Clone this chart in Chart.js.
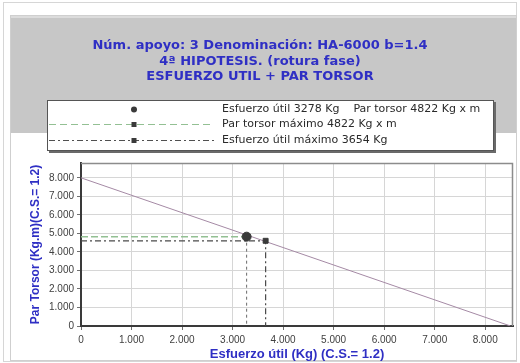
<!DOCTYPE html>
<html>
<head>
<meta charset="utf-8">
<script src="https://cdn.jsdelivr.net/npm/chart.js@4/dist/chart.umd.min.js"></script>
<style>
  html, body { margin: 0; padding: 0; background: #ffffff; }
  #wrap { width: 520px; height: 363px; position: relative; }
</style>
</head>
<body>
<div id="wrap"><canvas id="c" width="520" height="363"></canvas></div>
<script>
// ---- data ----
const titleLines = ['Núm. apoyo: 3 Denominación: HA-6000 b=1.4', '4ª HIPOTESIS. (rotura fase)', 'ESFUERZO UTIL + PAR TORSOR'];
const xAxisTitle = 'Esfuerzo útil (Kg) (C.S.= 1.2)';
const yAxisTitle = 'Par Torsor (Kg.m)(C.S.= 1.2)';

// interaction line: esfuerzo útil (Kg) vs par torsor (Kg·m)
const curveEsfuerzo = [0, 8500];
const curvePar = [8000, 0];

const esfuerzoUtil = 3278;        // Kg
const parTorsor = 4822;           // Kg x m
const parTorsorMaximo = 4822;     // Kg x m
const esfuerzoUtilMaximo = 3654;  // Kg
const parEnEsfuerzoMaximo = 4600; // Kg x m

const xLimits = [0, 8550];
const yLimits = [0, 8800];
const xTickValues = [0, 1000, 2000, 3000, 4000, 5000, 6000, 7000, 8000];
const yTickValues = [0, 1000, 2000, 3000, 4000, 5000, 6000, 7000, 8000];

const legendLabels = [
  'Esfuerzo útil ' + esfuerzoUtil + ' Kg    Par torsor ' + parTorsor + ' Kg x m',
  'Par torsor máximo ' + parTorsorMaximo + ' Kg x m',
  'Esfuerzo útil máximo ' + esfuerzoUtilMaximo + ' Kg'
];

// ---- styles ----
const FONT = "'Liberation Sans', Arial, sans-serif";
const WIDE = "'DejaVu Sans', Verdana, sans-serif";
const BLUE = '#2f2fc4';
const GREEN = '#93c093';
const DARK = '#3a3a3a';

function fmtThousands(v) {
  return String(Math.round(v)).replace(/\B(?=(\d{3})+(?!\d))/g, '.');
}

const curveData = curveEsfuerzo.map((x, i) => ({ x: x, y: curvePar[i] }));

const framePlugin = {
  id: 'frame',
  beforeDraw(chart) {
    const ctx = chart.ctx;
    ctx.save();
    ctx.fillStyle = '#ffffff';
    ctx.fillRect(0, 0, chart.width, chart.height);
    // outer frame
    ctx.strokeStyle = '#d6d6d6';
    ctx.lineWidth = 1;
    ctx.strokeRect(3.5, 2.5, 513, 359);
    // inner frame
    ctx.strokeStyle = '#cfcfcf';
    ctx.strokeRect(10.5, 15.5, 506, 345);
    // grey header panel
    ctx.fillStyle = '#c7c7c7';
    ctx.fillRect(11, 16, 505, 117);
    ctx.fillStyle = '#dcdcdc';
    ctx.fillRect(11, 16, 505, 2);
    ctx.restore();
  },
  beforeDatasetsDraw(chart) {
    const a = chart.chartArea;
    const ctx = chart.ctx;
    ctx.save();
    ctx.strokeStyle = '#8c8c8c';
    ctx.lineWidth = 1.5;
    ctx.beginPath();
    ctx.moveTo(a.left, a.top + 0.5);
    ctx.lineTo(a.right - 0.5, a.top + 0.5);
    ctx.lineTo(a.right - 0.5, a.bottom);
    ctx.stroke();
    ctx.restore();
  },
  afterDraw(chart) {
    const ctx = chart.ctx;
    ctx.save();
    // legend box with shadow
    const bx = 47, by = 100, bw = 446, bh = 50;
    ctx.fillStyle = '#6a6a6a';
    ctx.fillRect(bx + 2, by + 2, bw + 1, bh + 1);
    ctx.fillStyle = '#ffffff';
    ctx.fillRect(bx, by, bw, bh);
    ctx.strokeStyle = '#555555';
    ctx.lineWidth = 1;
    ctx.strokeRect(bx + 0.5, by + 0.5, bw, bh);

    const rows = [109.5, 124.5, 140.5];
    const mx = 134;
    // row 2: par torsor máximo
    ctx.strokeStyle = GREEN;
    ctx.lineWidth = 1;
    ctx.setLineDash([7, 4]);
    ctx.beginPath();
    ctx.moveTo(bx + 2, rows[1]);
    ctx.lineTo(214, rows[1]);
    ctx.stroke();
    // row 3: esfuerzo útil máximo
    ctx.strokeStyle = '#505050';
    ctx.setLineDash([6, 3, 2, 3]);
    ctx.beginPath();
    ctx.moveTo(bx + 2, rows[2]);
    ctx.lineTo(214, rows[2]);
    ctx.stroke();
    ctx.setLineDash([]);
    // markers
    ctx.fillStyle = DARK;
    ctx.beginPath();
    ctx.arc(mx, rows[0], 3, 0, Math.PI * 2);
    ctx.fill();
    ctx.fillRect(mx - 2.5, rows[1] - 2.5, 5, 5);
    ctx.fillRect(mx - 2.5, rows[2] - 2.5, 5, 5);
    // labels
    ctx.fillStyle = '#2a2a2a';
    ctx.font = '11px ' + WIDE;
    ctx.textBaseline = 'middle';
    ctx.textAlign = 'left';
    legendLabels.forEach((t, i) => ctx.fillText(t, 222, rows[i]));
    ctx.restore();
  }
};

new Chart(document.getElementById('c'), {
  type: 'scatter',
  data: {
    datasets: [
      {
        label: 'Esfuerzo útil / Par torsor',
        data: [{ x: esfuerzoUtil, y: parTorsor }],
        pointStyle: 'circle',
        pointRadius: 4.5,
        backgroundColor: DARK,
        borderColor: DARK,
        showLine: false
      },
      {
        label: 'Esfuerzo útil máximo',
        data: [{ x: esfuerzoUtilMaximo, y: parEnEsfuerzoMaximo }],
        pointStyle: 'rect',
        pointRadius: 3.5,
        backgroundColor: DARK,
        borderColor: DARK,
        showLine: false
      },
      {
        label: 'Par torsor máximo',
        data: [{ x: 0, y: parTorsorMaximo }, { x: esfuerzoUtil, y: parTorsorMaximo }],
        showLine: true,
        borderColor: GREEN,
        borderWidth: 1.5,
        borderDash: [7, 3],
        pointRadius: 0
      },
      {
        label: 'Esfuerzo útil',
        data: [{ x: esfuerzoUtil, y: parTorsor }, { x: esfuerzoUtil, y: 0 }],
        showLine: true,
        borderColor: '#6a6a6a',
        borderWidth: 1,
        borderDash: [3, 3],
        pointRadius: 0
      },
      {
        label: 'Esfuerzo útil máximo (guía)',
        data: [{ x: 0, y: parEnEsfuerzoMaximo }, { x: esfuerzoUtilMaximo, y: parEnEsfuerzoMaximo }, { x: esfuerzoUtilMaximo, y: 0 }],
        showLine: true,
        borderColor: '#4a4a4a',
        borderWidth: 1.2,
        borderDash: [6, 3, 2, 3],
        pointRadius: 0
      },
      {
        label: 'Interacción',
        data: curveData,
        showLine: true,
        borderColor: '#a58aa5',
        borderWidth: 1,
        pointRadius: 0
      }
    ]
  },
  options: {
    responsive: false,
    animation: false,
    devicePixelRatio: 1,
    layout: { padding: { left: 7, right: 7, top: 0, bottom: 0 } },
    plugins: {
      legend: { display: false },
      tooltip: { enabled: false },
      title: {
        display: true,
        text: titleLines,
        color: BLUE,
        font: { family: WIDE, size: 13, weight: 'bold', lineHeight: 1.2 },
        padding: { top: 38, bottom: 78.2 }
      }
    },
    scales: {
      x: {
        type: 'linear',
        min: xLimits[0],
        max: xLimits[1],
        afterFit(scale) { scale.height = 37; },
        afterBuildTicks(scale) { scale.ticks = xTickValues.map(v => ({ value: v })); },
        ticks: {
          autoSkip: false,
          maxRotation: 0,
          color: '#404040',
          font: { family: FONT, size: 10 },
          padding: 4,
          callback: v => fmtThousands(v)
        },
        grid: { color: '#d6d6d6', tickLength: 4, tickColor: '#707070' },
        border: { color: '#3a3a3a', width: 2 },
        title: {
          display: true,
          text: xAxisTitle,
          color: BLUE,
          font: { family: FONT, size: 13, weight: 'bold', lineHeight: 1.2 },
          padding: { top: 0, bottom: 1 }
        }
      },
      y: {
        type: 'linear',
        min: yLimits[0],
        max: yLimits[1],
        afterFit(scale) { scale.width = 74; },
        afterBuildTicks(scale) { scale.ticks = yTickValues.map(v => ({ value: v })); },
        ticks: {
          autoSkip: false,
          color: '#404040',
          font: { family: FONT, size: 10 },
          padding: 3,
          callback: v => fmtThousands(v)
        },
        grid: { color: '#d6d6d6', tickLength: 4, tickColor: '#707070' },
        border: { color: '#3a3a3a', width: 2 },
        title: {
          display: true,
          text: yAxisTitle,
          color: BLUE,
          font: { family: FONT, size: 12, weight: 'bold', lineHeight: 1.2 },
          padding: { top: 21, bottom: 0 }
        }
      }
    }
  },
  plugins: [framePlugin]
});
</script>
</body>
</html>
